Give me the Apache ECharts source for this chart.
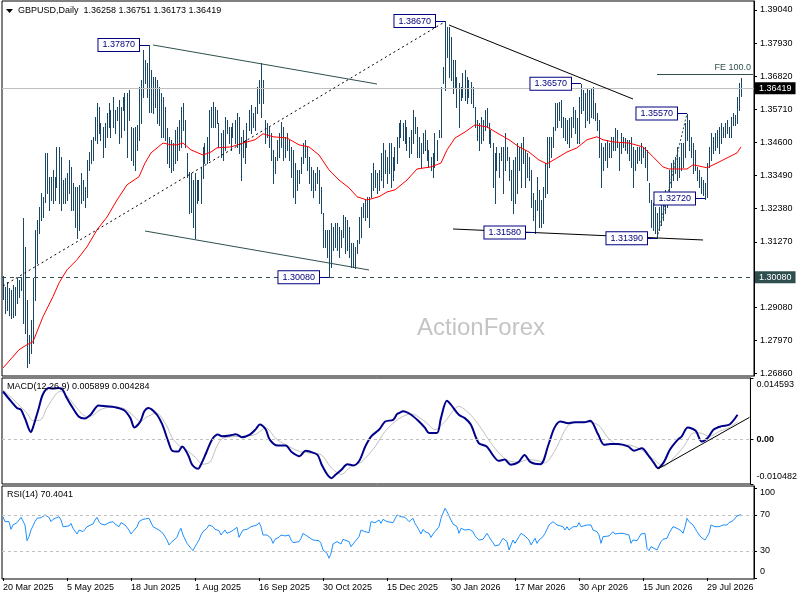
<!DOCTYPE html>
<html><head><meta charset="utf-8">
<script src="https://cdn.jsdelivr.net/npm/echarts@6/dist/echarts.min.js"></script>
<style>html,body{margin:0;padding:0;background:#fff}#c{width:800px;height:600px}</style>
</head><body><div id="c"></div>
<script>
// ---------- DATA ----------
const symbolName = 'GBPUSD,Daily';
const lastBar = [1.36258, 1.36751, 1.36173, 1.36419]; // open high low close
const dateLabels = ['20 Mar 2025','5 May 2025','18 Jun 2025','1 Aug 2025','16 Sep 2025','30 Oct 2025','15 Dec 2025','30 Jan 2026','17 Mar 2026','30 Apr 2026','15 Jun 2026','29 Jul 2026'];
const labelStep = 32;
const slotCount = 376;

const highs = [
1.3013,1.2976,1.2993,1.2973,1.2966,1.2983,1.2976,1.3006,1.2999,1.3010,
1.3207,1.3110,1.2932,1.2815,1.2865,1.3006,1.3167,1.3200,1.3244,1.3291,
1.3278,1.3425,1.3425,1.3345,1.3345,1.3368,1.3345,1.3445,1.3445,1.3412,
1.3334,1.3341,1.3358,1.3401,1.3378,1.3324,1.3311,1.3311,1.3318,1.3358,
1.3334,1.3311,1.3401,1.3428,1.3469,1.3479,1.3546,1.3593,1.3579,1.3526,
1.3512,1.3526,1.3559,1.3593,1.3569,1.3613,1.3569,1.3579,1.3603,1.3579,
1.3613,1.3626,1.3626,1.3636,1.3512,1.3509,1.3512,1.3519,1.3646,1.3670,
1.3770,1.3736,1.3726,1.3787,1.3703,1.3680,1.3680,1.3670,1.3646,1.3626,
1.3613,1.3579,1.3509,1.3479,1.3469,1.3459,1.3502,1.3512,1.3536,1.3579,
1.3593,1.3536,1.3425,1.3361,1.3358,1.3334,1.3358,1.3334,1.3334,1.3375,
1.3445,1.3459,1.3479,1.3569,1.3579,1.3596,1.3579,1.3569,1.3526,1.3492,
1.3502,1.3546,1.3536,1.3512,1.3512,1.3526,1.3536,1.3559,1.3546,1.3479,
1.3502,1.3469,1.3526,1.3569,1.3586,1.3559,1.3579,1.3646,1.3670,1.3726,
1.3670,1.3536,1.3526,1.3512,1.3492,1.3435,1.3412,1.3469,1.3492,1.3529,
1.3512,1.3479,1.3492,1.3469,1.3445,1.3435,1.3391,1.3368,1.3368,1.3412,
1.3459,1.3469,1.3445,1.3412,1.3378,1.3368,1.3358,1.3378,1.3368,1.3311,
1.3224,1.3167,1.3167,1.3167,1.3190,1.3177,1.3190,1.3190,1.3177,1.3167,
1.3217,1.3210,1.3200,1.3177,1.3123,1.3123,1.3110,1.3133,1.3210,1.3244,
1.3257,1.3267,1.3278,1.3278,1.3358,1.3391,1.3368,1.3358,1.3368,1.3425,
1.3459,1.3435,1.3412,1.3459,1.3459,1.3412,1.3445,1.3479,1.3526,1.3536,
1.3526,1.3536,1.3512,1.3479,1.3502,1.3569,1.3546,1.3512,1.3479,1.3459,
1.3492,1.3502,1.3469,1.3435,1.3412,1.3425,1.3492,1.3469,1.3502,1.3646,
1.3713,1.3867,1.3847,1.3847,1.3814,1.3736,1.3736,1.3680,1.3659,1.3646,
1.3693,1.3703,1.3680,1.3670,1.3663,1.3646,1.3579,1.3536,1.3526,1.3546,
1.3536,1.3569,1.3576,1.3526,1.3502,1.3459,1.3425,1.3445,1.3425,1.3445,
1.3445,1.3492,1.3445,1.3412,1.3368,1.3401,1.3412,1.3459,1.3445,1.3459,
1.3479,1.3435,1.3425,1.3412,1.3368,1.3291,1.3267,1.3345,1.3301,1.3267,
1.3311,1.3391,1.3479,1.3479,1.3479,1.3512,1.3593,1.3593,1.3596,1.3603,
1.3546,1.3542,1.3536,1.3542,1.3546,1.3579,1.3569,1.3542,1.3613,1.3657,
1.3636,1.3626,1.3643,1.3636,1.3643,1.3646,1.3593,1.3559,1.3536,1.3459,
1.3445,1.3459,1.3469,1.3459,1.3479,1.3479,1.3509,1.3502,1.3459,1.3492,
1.3479,1.3475,1.3469,1.3469,1.3479,1.3445,1.3435,1.3445,1.3445,1.3459,
1.3445,1.3445,1.3435,1.3324,1.3267,1.3257,1.3244,1.3224,1.3244,1.3257,
1.3267,1.3301,1.3291,1.3368,1.3391,1.3401,1.3412,1.3445,1.3412,1.3459,
1.3459,1.3526,1.3557,1.3536,1.3479,1.3459,1.3435,1.3378,1.3368,1.3345,
1.3334,1.3324,1.3391,1.3445,1.3492,1.3479,1.3492,1.3502,1.3512,1.3526,
1.3512,1.3526,1.3536,1.3512,1.3546,1.3559,1.3552,1.3613,1.3659,1.36751];

const lows = [
1.2936,1.2889,1.2899,1.2882,1.2872,1.2876,1.2882,1.2922,1.2943,1.2966,
1.2855,1.2822,1.2708,1.2721,1.2755,1.2789,1.2932,1.3056,1.3157,1.3200,
1.3210,1.3261,1.3291,1.3234,1.3267,1.3257,1.3267,1.3311,1.3257,1.3234,
1.3257,1.3257,1.3267,1.3291,1.3234,1.3234,1.3177,1.3140,1.3167,1.3257,
1.3267,1.3244,1.3278,1.3368,1.3391,1.3401,1.3469,1.3459,1.3492,1.3469,
1.3412,1.3445,1.3479,1.3512,1.3479,1.3512,1.3492,1.3536,1.3459,1.3479,
1.3569,1.3502,1.3412,1.3536,1.3401,1.3385,1.3368,1.3435,1.3469,1.3526,
1.3613,1.3660,1.3613,1.3562,1.3562,1.3559,1.3579,1.3526,1.3519,1.3479,
1.3479,1.3469,1.3391,1.3378,1.3361,1.3368,1.3391,1.3401,1.3435,1.3445,
1.3502,1.3445,1.3345,1.3224,1.3227,1.3177,1.3140,1.3257,1.3267,1.3257,
1.3341,1.3391,1.3391,1.3401,1.3512,1.3512,1.3512,1.3526,1.3445,1.3412,
1.3401,1.3435,1.3492,1.3459,1.3435,1.3479,1.3459,1.3445,1.3425,1.3334,
1.3412,1.3391,1.3445,1.3502,1.3492,1.3512,1.3502,1.3559,1.3593,1.3546,
1.3593,1.3459,1.3479,1.3445,1.3401,1.3324,1.3358,1.3401,1.3412,1.3445,
1.3401,1.3412,1.3435,1.3401,1.3345,1.3278,1.3257,1.3301,1.3324,1.3358,
1.3391,1.3412,1.3368,1.3324,1.3301,1.3278,1.3301,1.3324,1.3257,1.3224,
1.3110,1.3110,1.3076,1.3008,1.3043,1.3100,1.3110,1.3100,1.3076,1.3110,
1.3144,1.3090,1.3100,1.3076,1.3043,1.3043,1.3040,1.3090,1.3123,1.3144,
1.3210,1.3200,1.3210,1.3177,1.3278,1.3301,1.3311,1.3291,1.3301,1.3334,
1.3311,1.3358,1.3324,1.3358,1.3311,1.3334,1.3368,1.3391,1.3445,1.3479,
1.3469,1.3459,1.3435,1.3412,1.3425,1.3459,1.3492,1.3412,1.3412,1.3378,
1.3425,1.3435,1.3401,1.3378,1.3368,1.3345,1.3378,1.3401,1.3479,1.3479,
1.3660,1.3636,1.3747,1.3680,1.3670,1.3626,1.3646,1.3579,1.3512,1.3603,
1.3613,1.3603,1.3593,1.3613,1.3593,1.3579,1.3512,1.3469,1.3435,1.3459,
1.3469,1.3502,1.3512,1.3459,1.3445,1.3311,1.3257,1.3368,1.3345,1.3401,
1.3291,1.3368,1.3401,1.3334,1.3267,1.3224,1.3257,1.3291,1.3368,1.3311,
1.3391,1.3311,1.3345,1.3334,1.3244,1.3200,1.3158,1.3234,1.3177,1.3177,
1.3190,1.3278,1.3291,1.3378,1.3412,1.3445,1.3502,1.3512,1.3536,1.3512,
1.3479,1.3469,1.3459,1.3445,1.3479,1.3512,1.3492,1.3459,1.3459,1.3559,
1.3569,1.3512,1.3536,1.3526,1.3546,1.3542,1.3536,1.3502,1.3412,1.3311,
1.3368,1.3401,1.3378,1.3412,1.3412,1.3435,1.3435,1.3445,1.3368,1.3425,
1.3445,1.3435,1.3425,1.3401,1.3378,1.3311,1.3368,1.3391,1.3401,1.3391,
1.3412,1.3378,1.3334,1.3261,1.3177,1.3167,1.3157,1.3139,1.3167,1.3184,
1.3200,1.3224,1.3244,1.3278,1.3311,1.3334,1.3358,1.3334,1.3345,1.3368,
1.3378,1.3412,1.3469,1.3435,1.3412,1.3358,1.3368,1.3334,1.3311,1.3291,
1.3284,1.3272,1.3278,1.3378,1.3401,1.3425,1.3435,1.3445,1.3425,1.3459,
1.3479,1.3479,1.3492,1.3479,1.3479,1.3519,1.3519,1.3526,1.3569,1.36173];

// moving average (red) [bar, value]
const maPoints = [[0,1.2704],[8,1.2765],[12,1.2782],[15,1.2792],[20,1.2876],[25,1.2943],[28,1.2989],[32,1.3033],[37,1.3067],[42,1.3110],[47,1.3167],[52,1.3210],[57,1.3267],[62,1.3318],[68,1.3345],[71,1.3391],[74,1.3425],[80,1.3458],[84,1.3452],[87,1.3452],[90,1.3458],[94,1.3435],[100,1.3418],[104,1.3428],[107,1.3442],[114,1.3445],[120,1.3458],[126,1.3469],[130,1.3489],[135,1.3479],[142,1.3475],[148,1.3452],[153,1.3445],[158,1.3418],[163,1.3368],[168,1.3334],[173,1.3308],[177,1.3278],[182,1.3267],[188,1.3278],[192,1.3294],[196,1.3301],[202,1.3334],[207,1.3371],[214,1.3378],[219,1.3391],[222,1.3435],[226,1.3475],[231,1.3495],[236,1.3519],[242,1.3512],[247,1.3492],[253,1.3469],[258,1.3445],[263,1.3428],[268,1.3401],[272,1.3388],[277,1.3408],[282,1.3428],[287,1.3442],[292,1.3469],[297,1.3479],[300,1.3469],[305,1.3462],[313,1.3458],[320,1.3445],[325,1.3412],[330,1.3378],[333,1.3371],[342,1.3371],[345,1.3385],[348,1.3381],[352,1.3375],[357,1.3391],[362,1.3408],[367,1.3425],[369,1.3445]];

// MACD(12,26,9) main line [bar, value]
const macdPoints = [[0,0.0114],[4,0.0091],[7,0.0075],[9,0.0071],[11,0.0051],[14,0.0018],[15,0.0028],[18,0.0075],[20,0.0107],[23,0.0122],[25,0.0121],[28,0.0122],[30,0.0118],[32,0.0099],[34,0.0083],[38,0.0055],[41,0.0050],[44,0.0059],[48,0.0081],[52,0.0079],[56,0.0077],[61,0.0069],[64,0.0051],[66,0.0029],[69,0.0043],[71,0.0067],[73,0.0075],[77,0.0061],[80,0.0036],[83,-0.0004],[85,-0.0026],[88,-0.0028],[90,-0.0016],[93,-0.0036],[95,-0.0059],[98,-0.0069],[99,-0.0063],[102,-0.0032],[105,0.0000],[108,0.0012],[110,0.0008],[114,0.0010],[117,0.0013],[120,0.0006],[124,0.0012],[127,0.0025],[129,0.0036],[132,0.0024],[134,0.0000],[138,-0.0014],[142,-0.0014],[145,-0.0029],[149,-0.0039],[152,-0.0026],[154,-0.0028],[158,-0.0036],[160,-0.0058],[163,-0.0083],[165,-0.0091],[167,-0.0083],[170,-0.0071],[173,-0.0058],[176,-0.0061],[179,-0.0050],[182,-0.0016],[185,0.0008],[189,0.0024],[192,0.0043],[196,0.0047],[198,0.0061],[199,0.0063],[201,0.0067],[205,0.0059],[209,0.0043],[212,0.0028],[214,0.0016],[218,0.0016],[220,0.0051],[223,0.0092],[225,0.0083],[229,0.0059],[232,0.0051],[235,0.0036],[239,-0.0008],[243,-0.0016],[246,-0.0036],[249,-0.0050],[252,-0.0047],[255,-0.0059],[259,-0.0053],[262,-0.0036],[265,-0.0053],[270,-0.0058],[274,-0.0012],[277,0.0028],[280,0.0043],[284,0.0039],[287,0.0041],[292,0.0041],[295,0.0045],[299,0.0012],[302,-0.0012],[305,-0.0010],[309,-0.0010],[314,-0.0016],[317,-0.0026],[321,-0.0020],[324,-0.0036],[327,-0.0055],[329,-0.0067],[332,-0.0053],[335,-0.0024],[339,0.0000],[341,0.0008],[344,0.0029],[348,0.0021],[351,-0.0004],[354,0.0004],[357,0.0024],[361,0.0032],[365,0.0036],[369,0.005899]];

// MACD signal line [bar, value]
const signalPoints = [[0,0.0118],[7,0.0087],[12,0.0063],[15,0.0045],[19,0.0047],[22,0.0075],[27,0.0110],[29,0.0114],[33,0.0099],[37,0.0075],[42,0.0055],[45,0.0057],[49,0.0071],[54,0.0077],[60,0.0075],[65,0.0059],[69,0.0043],[72,0.0053],[77,0.0063],[82,0.0035],[85,0.0004],[89,-0.0016],[92,-0.0024],[97,-0.0043],[100,-0.0058],[104,-0.0053],[107,-0.0020],[110,0.0002],[115,0.0007],[122,0.0008],[127,0.0013],[132,0.0028],[137,0.0003],[142,-0.0012],[149,-0.0028],[155,-0.0032],[160,-0.0036],[165,-0.0067],[170,-0.0082],[175,-0.0063],[180,-0.0053],[187,-0.0016],[192,0.0020],[199,0.0050],[205,0.0061],[212,0.0043],[217,0.0024],[222,0.0043],[229,0.0079],[234,0.0063],[239,0.0035],[244,0.0000],[249,-0.0031],[254,-0.0050],[259,-0.0053],[264,-0.0047],[269,-0.0050],[272,-0.0055],[277,-0.0028],[282,0.0020],[285,0.0037],[292,0.0042],[299,0.0035],[304,0.0004],[309,-0.0012],[315,-0.0013],[322,-0.0028],[327,-0.0047],[332,-0.0063],[337,-0.0043],[342,-0.0016],[347,0.0016],[350,0.0016],[355,0.0008],[360,0.0020],[365,0.0029],[369,0.004284]];

// RSI(14) [bar, value]
const rsiPoints = [[0,68.1],[1,62.6],[2,60.7],[3,62.6],[4,54.1],[5,58.9],[7,61.5],[8,62.6],[9,67.4],[10,68.9],[11,58.9],[12,41.5],[13,45.9],[14,53.3],[16,62.6],[17,66.3],[19,67.0],[20,67.4],[21,70.0],[22,71.9],[23,67.4],[24,62.6],[25,65.2],[26,67.4],[28,68.1],[29,64.4],[30,57.0],[31,56.3],[33,57.8],[34,60.7],[35,55.2],[36,53.3],[37,48.9],[38,53.3],[40,51.5],[41,54.1],[42,57.0],[43,58.9],[45,60.0],[46,64.4],[47,67.4],[48,62.6],[49,60.0],[50,60.7],[51,58.9],[53,61.5],[54,60.7],[55,62.6],[56,60.0],[58,57.0],[59,61.5],[60,62.6],[61,58.9],[63,53.3],[64,48.9],[65,51.5],[66,50.4],[67,57.0],[68,62.6],[70,65.2],[71,66.3],[73,66.3],[74,64.4],[75,57.0],[76,56.3],[78,53.3],[79,51.5],[80,49.6],[82,42.2],[83,36.7],[84,39.3],[85,39.3],[87,45.2],[88,51.5],[89,55.2],[90,47.8],[92,38.5],[93,36.7],[94,33.0],[95,30.4],[96,34.8],[97,38.5],[98,42.2],[99,47.8],[100,51.5],[102,55.2],[103,58.9],[104,60.7],[105,57.0],[106,54.1],[108,52.6],[109,47.8],[110,46.7],[111,53.3],[112,49.6],[113,51.5],[114,51.5],[115,53.3],[117,56.3],[118,45.2],[119,49.6],[120,53.3],[122,54.1],[123,55.2],[124,57.0],[125,57.0],[127,58.9],[128,61.5],[129,57.0],[130,47.8],[132,47.8],[133,49.6],[134,44.1],[135,38.5],[136,43.0],[138,45.2],[139,47.8],[140,45.9],[141,46.7],[143,47.8],[144,42.2],[145,39.3],[146,41.5],[148,40.4],[149,44.1],[150,49.6],[151,47.8],[153,45.2],[154,44.1],[155,42.2],[156,40.4],[158,41.5],[159,38.5],[160,31.1],[161,29.3],[162,27.4],[163,21.9],[164,27.4],[165,37.8],[167,40.4],[168,40.4],[169,37.8],[170,43.0],[171,42.2],[173,40.4],[174,34.8],[175,36.7],[176,40.4],[178,45.9],[179,53.3],[180,54.1],[181,51.5],[183,50.4],[184,62.6],[185,60.7],[186,61.5],[188,64.4],[189,60.7],[190,65.2],[191,66.3],[192,62.6],[193,60.7],[195,61.5],[196,60.0],[197,70.0],[198,71.9],[199,68.1],[200,68.1],[201,67.4],[203,62.6],[204,60.7],[205,66.3],[206,60.7],[207,57.0],[208,53.3],[209,48.9],[210,54.1],[211,51.5],[213,49.6],[214,45.2],[215,48.9],[216,51.5],[217,50.4],[218,57.0],[219,66.3],[220,71.9],[221,77.4],[222,73.7],[223,72.6],[224,64.4],[225,60.0],[226,60.7],[227,57.0],[228,49.6],[229,55.2],[230,57.0],[231,53.3],[233,54.1],[234,52.6],[235,51.5],[236,46.7],[238,42.2],[239,43.0],[240,43.0],[241,44.1],[242,49.6],[243,45.9],[244,42.2],[245,39.3],[246,35.6],[248,36.7],[249,40.4],[250,44.1],[251,42.2],[252,40.4],[253,31.1],[254,36.7],[255,42.2],[256,38.5],[258,45.9],[259,49.6],[260,50.4],[261,46.7],[263,42.2],[264,36.7],[265,40.4],[266,44.1],[267,38.5],[268,42.2],[270,45.9],[271,49.6],[272,54.1],[273,58.9],[275,62.6],[276,61.5],[277,58.9],[278,60.0],[280,57.0],[281,53.3],[282,57.0],[283,53.3],[285,57.0],[286,55.2],[287,57.0],[288,61.5],[289,57.0],[290,55.2],[292,58.9],[293,60.7],[294,58.9],[295,53.3],[297,51.5],[298,47.8],[299,38.5],[300,45.9],[301,45.9],[303,46.7],[304,46.7],[305,51.5],[306,48.9],[308,49.6],[309,47.8],[310,49.6],[311,50.4],[313,47.8],[314,38.5],[315,42.2],[317,41.5],[318,45.2],[319,48.9],[320,48.9],[321,49.6],[322,33.0],[323,30.4],[324,34.8],[325,36.7],[327,31.1],[328,33.0],[329,40.4],[330,43.0],[332,44.1],[333,49.6],[334,53.3],[335,57.0],[337,55.2],[338,57.0],[339,52.6],[340,49.6],[341,57.0],[342,66.3],[343,62.6],[345,58.9],[346,55.2],[347,51.5],[348,50.4],[349,45.2],[350,43.0],[351,42.2],[353,49.6],[354,58.9],[355,60.7],[356,57.0],[357,55.2],[358,57.0],[360,58.9],[361,60.7],[362,58.9],[363,61.5],[365,63.7],[366,61.5],[367,68.9],[368,69.5],[369,70.4041]];

// axis tick values
const priceTicks = [1.3904,1.3793,1.3682,1.3571,1.3460,1.3349,1.3238,1.3127,1.2908,1.2797,1.2686];
const priceRange = [1.26770, 1.39342];
const macdRange = [-0.010482, 0.014593];
const macdTicks = [0.014593, 0, -0.010482];
const rsiTicks = [100, 70, 30, 0];
const rsiRange = [-1.1, 102.2];
const rsiLevels = [70, 30];

// analysis marks: swing highs/lows [bar, price]
const swingPoints = [[73,1.3787],[163,1.3008],[221,1.3867],[266,1.3158],[289,1.3657],[327,1.3139],[342,1.3557],[351,1.3272]];
const keyLevel = 1.3008;
const feLevel = [327, 1.3690];   // FE 100.0 projection
const channelLines = [[[75,1.37867],[187,1.36559]],[[71,1.31631],[183,1.30324]]];
const blackLines = [[[223,1.38537],[315,1.36056]],[[225,1.31698],[350,1.31330]]];
const dashedTrend = [[0,1.29787],[221,1.38648]];
const waveLine = [[327,1.3139],[342,1.3557]];
const macdTrend = [[329,-0.00693],[375,0.00528]];

// ---------- CHART ----------
const FONT = '"Liberation Sans", Arial, sans-serif';
const BAR = '#1a4766', SLATE = '#2f4f4f', NAVY = '#000080';
const cats = Array.from({length: slotCount}, (_, i) => String(i));
const chart = echarts.init(document.getElementById('c'), null, {width: 800, height: 600});

const grids = [
  {left: 2, width: 752, top: 1, height: 375},
  {left: 2, width: 752, top: 378, height: 106},
  {left: 2, width: 752, top: 486, height: 93}
].map(g => Object.assign(g, {show: true, borderColor: '#000', borderWidth: 1, backgroundColor: '#fff'}));

const lbl = {color: '#000', fontSize: 9, fontFamily: FONT};
function xAx(i, show) {
  return {gridIndex: i, type: 'category', data: cats, boundaryGap: true,
    axisLine: {show: false}, splitLine: {show: false},
    axisTick: {show: show, interval: labelStep - 1, alignWithLabel: true, length: 3, lineStyle: {color: '#000'}},
    axisLabel: Object.assign({show: show, interval: labelStep - 1, align: 'left', margin: 4,
      formatter: (v, idx) => dateLabels[idx / labelStep] || ''}, lbl)};
}
function yAx(i, range, ticks, fmt, rich) {
  return {gridIndex: i, type: 'value', position: 'right', min: range[0], max: range[1],
    splitLine: {show: false}, axisLine: {show: true, lineStyle: {color: '#000'}},
    axisTick: {show: true, length: 3, customValues: ticks, lineStyle: {color: '#000'}},
    axisLabel: Object.assign({customValues: ticks, formatter: fmt, margin: 6, rich: rich || {}}, lbl)};
}

const seg = (a, b, style, label) => [
  {coord: a, lineStyle: style, label: label || {show: false}},
  {coord: b}
];
const boxLabel = txt => ({show: true, position: 'start', distance: 0, formatter: txt,
  color: NAVY, fontSize: 9, fontFamily: FONT, backgroundColor: '#fff', borderColor: NAVY, borderWidth: 1,
  padding: [2, 4, 1, 4], lineHeight: 9});

const priceMarks = [
  {yAxis: lastBar[3], lineStyle: {color: '#c0c0c0', type: 'solid', width: 1},
   label: {show: true, position: 'end', distance: 1, formatter: lastBar[3].toFixed(5), color: '#fff',
     backgroundColor: '#000', padding: [2, 4, 1, 4], fontSize: 9, fontFamily: FONT}},
  {yAxis: keyLevel, lineStyle: {color: SLATE, type: [4, 4], width: 1},
   label: {show: true, position: 'end', distance: 1, formatter: keyLevel.toFixed(5), color: '#fff',
     backgroundColor: SLATE, padding: [2, 4, 1, 4], fontSize: 9, fontFamily: FONT}},
  ...channelLines.map(l => seg(l[0], l[1], {color: SLATE, type: 'solid', width: 1})),
  ...blackLines.map(l => seg(l[0], l[1], {color: '#000', type: 'solid', width: 1})),
  seg(dashedTrend[0], dashedTrend[1], {color: '#000', type: [2, 3], width: 1}),
  seg(waveLine[0], waveLine[1], {color: SLATE, type: [2, 2], width: 1}),
  seg(feLevel, [slotCount - 1, feLevel[1]], {color: SLATE, type: 'solid', width: 1},
    {show: true, position: 'insideEndTop', distance: 2, formatter: 'FE 100.0', color: SLATE, fontSize: 9, fontFamily: FONT}),
  ...swingPoints.map(p => seg([p[0] - 5, p[1]], p, {color: NAVY, type: 'solid', width: 1}, boxLabel(p[1].toFixed(5))))
];

const option = {
  animation: false,
  backgroundColor: '#fff',
  textStyle: {fontFamily: FONT},
  grid: grids,
  xAxis: [xAx(0, false), xAx(1, false), xAx(2, true)],
  yAxis: [
    yAx(0, priceRange, priceTicks, v => v.toFixed(5)),
    yAx(1, macdRange, macdTicks,
      v => v === macdTicks[0] ? '{t|' + v.toFixed(6) + '}' : (v === 0 ? '{z|0.00}' : '{b|' + v.toFixed(6) + '}'),
      {t: {padding: [14, 0, 0, 0], fontSize: 9}, b: {padding: [0, 0, 14, 0], fontSize: 9}, z: {fontWeight: 'bold', fontSize: 9}}),
    yAx(2, rsiRange, rsiTicks,
      v => v === 100 ? '{t|100}' : (v === 0 ? '{b|0}' : String(v)),
      {t: {padding: [10, 0, 0, 0], fontSize: 9}, b: {padding: [0, 0, 12, 0], fontSize: 9}})
  ],
  graphic: [
    {type: 'polygon', shape: {points: [[6, 9], [13, 9], [9.5, 13]]}, style: {fill: '#000'}, z: 10},
    {type: 'text', z: 10, style: {x: 18, y: 11, verticalAlign: 'middle', text: symbolName + '  ' + lastBar.map(v => v.toFixed(5)).join(' '), fill: '#000', font: '9px ' + FONT}},
    {type: 'text', z: 10, style: {x: 7, y: 387, verticalAlign: 'middle', text: 'MACD(12,26,9) ' + macdPoints[macdPoints.length - 1][1].toFixed(6) + ' ' + signalPoints[signalPoints.length - 1][1].toFixed(6), fill: '#000', font: '9px ' + FONT}},
    {type: 'text', z: 10, style: {x: 7, y: 495, verticalAlign: 'middle', text: 'RSI(14) ' + rsiPoints[rsiPoints.length - 1][1].toFixed(4), fill: '#000', font: '9px ' + FONT}},
    {type: 'text', z: 1, style: {x: 481, y: 328, align: 'center', verticalAlign: 'middle', text: 'ActionForex', fill: '#c4c4c4', font: '24px ' + FONT}}
  ],
  series: [
    {type: 'custom', name: 'bars', xAxisIndex: 0, yAxisIndex: 0, z: 2, silent: true,
     data: highs.map((h, i) => [i, h, lows[i]]), encode: {x: 0, y: [1, 2]},
     renderItem: (params, api) => {
       const top = api.coord([api.value(0), api.value(1)]);
       const bot = api.coord([api.value(0), api.value(2)]);
       const x = Math.floor(top[0]) + 0.5;
       return {type: 'line', shape: {x1: x, y1: Math.round(top[1]), x2: x, y2: Math.round(bot[1]) + 1},
         style: {stroke: BAR, lineWidth: 1}};
     }},
    {type: 'line', name: 'ma', xAxisIndex: 0, yAxisIndex: 0, z: 3, data: maPoints, symbol: 'none', silent: true,
     lineStyle: {color: '#ff0000', width: 1},
     markLine: {silent: true, precision: 6, symbol: ['none', 'none'], animation: false, data: priceMarks}},
    {type: 'line', name: 'signal', xAxisIndex: 1, yAxisIndex: 1, z: 2, data: signalPoints, symbol: 'none', silent: true,
     smooth: 0.3, lineStyle: {color: '#c0c0c0', width: 1},
     markLine: {silent: true, precision: 6, symbol: ['none', 'none'], animation: false, label: {show: false},
       data: [{yAxis: 0, lineStyle: {color: '#c0c0c0', type: [3, 3], width: 1}}]}},
    {type: 'line', name: 'macd', xAxisIndex: 1, yAxisIndex: 1, z: 3, data: macdPoints, symbol: 'none', silent: true,
     smooth: 0.3, lineStyle: {color: '#00008b', width: 2},
     markLine: {silent: true, precision: 6, symbol: ['none', 'none'], animation: false, label: {show: false},
       data: [seg(macdTrend[0], macdTrend[1], {color: '#000', type: 'solid', width: 1})]}},
    {type: 'line', name: 'rsi', xAxisIndex: 2, yAxisIndex: 2, z: 3, data: rsiPoints, symbol: 'none', silent: true,
     lineStyle: {color: '#1e90ff', width: 1},
     markLine: {silent: true, precision: 6, symbol: ['none', 'none'], animation: false, label: {show: false},
       data: rsiLevels.map(v => ({yAxis: v, lineStyle: {color: '#c0c0c0', type: [3, 3], width: 1}}))}}
  ]
};
chart.setOption(option);
</script>
</body></html>
